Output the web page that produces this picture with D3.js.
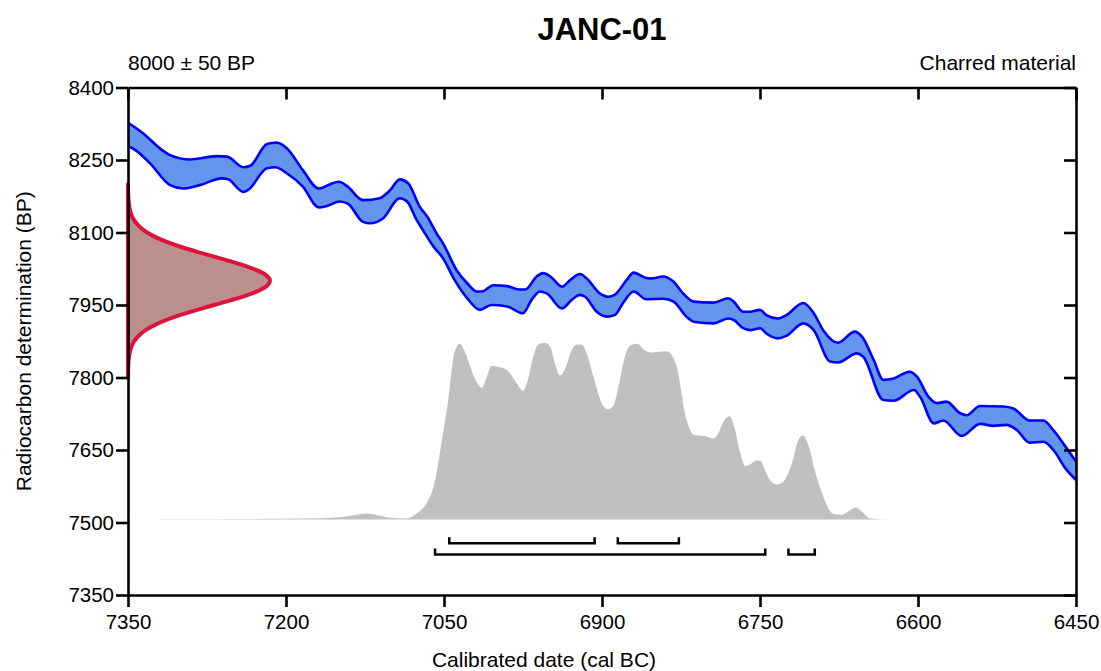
<!DOCTYPE html>
<html>
<head>
<meta charset="utf-8">
<script src="https://cdn.jsdelivr.net/npm/d3@7"></script>
<style>
  html, body { margin: 0; padding: 0; background: #fff; }
  svg { display: block; }
  text { font-family: "Liberation Sans", Arial, Helvetica, sans-serif; fill: #000; }
</style>
</head>
<body>
<svg id="chart" width="1101" height="671"></svg>
<script>
// ---------------- DATA ----------------
const title = "JANC-01";
const measurementLabel = "8000 ± 50 BP";
const materialLabel = "Charred material";
const xAxisTitle = "Calibrated date (cal BC)";
const yAxisTitle = "Radiocarbon determination (BP)";

const xTicks = [7350, 7200, 7050, 6900, 6750, 6600, 6450];
const yTicks = [7350, 7500, 7650, 7800, 7950, 8100, 8250, 8400];

// Calibration curve, upper edge [cal BC, BP]
const curveUpper = [
  [7350,8327],[7335.5,8305],[7318,8271],[7310,8260],[7291,8251],[7266,8258],[7256,8257],
  [7240.5,8235],[7234,8238],[7218,8283],[7209,8286],[7199,8274],[7184,8229],[7169,8191],
  [7158,8200],[7150,8205],[7142,8196],[7127,8167],[7111,8171],[7101,8188],[7092,8210],
  [7084,8202],[7073,8153],[7066,8133],[7057,8098],[7051,8078],[7038,8022],[7028,7995],
  [7019,7978],[7014,7978],[7003,7991],[6990,7989],[6979,7982],[6973,7982],[6962,8009],
  [6956,8016],[6949,8009],[6938,7988],[6930,8002],[6921,8014],[6914.5,8005],[6902,7974],
  [6894,7967],[6888,7971],[6876.5,8002],[6870,8017],[6858,8006],[6853,8005],[6842,8009],
  [6832,7998],[6823,7974],[6813,7957],[6794,7955],[6780,7964],[6775,7957],[6766,7936],
  [6759.5,7936],[6750,7940],[6744,7929],[6733,7922],[6725,7929],[6709,7954],[6699,7933],
  [6690,7898],[6676,7872],[6660,7895],[6653,7884],[6642,7836],[6633,7795],[6623,7798],
  [6608,7812],[6601,7802],[6590,7760],[6582,7747],[6573,7750],[6560,7726],[6554,7722],
  [6541,7741],[6519,7740],[6509.5,7736],[6494,7711],[6481,7711],[6471.5,7691],[6460,7657],
  [6450,7626]
];
// Calibration curve, lower edge [cal BC, BP]
const curveLower = [
  [7350,8279],[7342,8269],[7329,8243],[7310,8198],[7297.5,8191],[7282,8198],[7261,8212],
  [7255,8210],[7240.5,8184],[7236,8188],[7218,8233],[7210,8235],[7199,8222],[7184,8195],
  [7169,8152],[7161,8155],[7149,8164],[7141,8159],[7127,8122],[7120,8119],[7108,8129],
  [7092,8171],[7085,8164],[7076,8126],[7070,8105],[7060,8071],[7051,8047],[7040,8002],
  [7028,7964],[7016,7940],[7005,7950],[6990,7947],[6975,7933],[6967,7960],[6959,7978],
  [6952.5,7974],[6938,7943],[6929,7960],[6921,7971],[6916,7967],[6905,7936],[6895.5,7926],
  [6888,7929],[6880,7954],[6870,7978],[6858,7962],[6842,7963],[6832,7957],[6820,7926],
  [6813,7915.5],[6794,7912],[6780,7922],[6775,7919],[6766,7902],[6759.5,7898],[6750,7902],
  [6744,7891],[6733,7881],[6725,7886],[6709,7912],[6699,7898],[6683.5,7833],[6676,7831],
  [6658,7850],[6652,7843],[6633,7753.5],[6623,7752],[6604,7774],[6598,7760],[6585,7705],
  [6576,7711],[6558.5,7679],[6541,7704],[6528.5,7700],[6516,7702],[6506,7691],[6494,7665],
  [6481,7667],[6471.5,7650],[6460,7612],[6450,7588]
];

// Radiocarbon measurement distribution (BP, relative density)
const dateBP = [7800,7810,7820,7830,7840,7850,7860,7870,7880,7890,7900,7910,7920,7930,7940,7950,
  7960,7970,7980,7990,8000,8010,8020,8030,8040,8050,8060,8070,8080,8090,8100,8110,8120,8130,
  8140,8150,8160,8170,8180,8190,8200];
const dateDensity = [0.0003,0.0007,0.0015,0.003,0.006,0.011,0.020,0.034,0.056,0.089,0.135,0.198,
  0.278,0.375,0.487,0.607,0.726,0.835,0.923,0.980,1.0,0.980,0.923,0.835,0.726,0.607,0.487,
  0.375,0.278,0.198,0.135,0.089,0.056,0.034,0.020,0.011,0.006,0.003,0.0015,0.0007,0.0003];

// Calibrated probability distribution (cal BC, relative probability)
const calYears = [7320,7187,7149,7123,7101,7085,7076,7065,7060,7051,7046,7040,7035,7030,7025,
  7019,7014,7009.5,7005,6998,6990,6984,6979,6975,6970,6965,6960.5,6954,6949,6945,6940,6935,
  6929,6924,6919,6914.5,6908,6900,6894,6889,6884.5,6878,6873,6867,6859,6853,6838.5,6834,6829,
  6820,6813,6802,6794,6789.5,6785,6779,6774,6769,6764,6759.5,6753,6749,6744,6739,6734,6729,
  6725,6718,6715,6709.5,6704,6698,6691,6685,6679,6672,6664.5,6659,6653,6645.5,6627,6598];
const calProb = [0.002,0.006,0.013,0.034,0.010,0.006,0.034,0.109,0.184,0.486,0.674,0.947,0.994,
  0.947,0.862,0.777,0.746,0.806,0.868,0.862,0.844,0.797,0.753,0.727,0.797,0.928,0.990,0.998,
  0.975,0.890,0.815,0.853,0.956,0.990,0.989,0.938,0.806,0.655,0.623,0.646,0.749,0.928,0.985,
  0.994,0.956,0.944,0.951,0.932,0.862,0.571,0.480,0.472,0.458,0.489,0.551,0.584,0.514,0.382,
  0.303,0.312,0.335,0.328,0.260,0.212,0.199,0.208,0.241,0.354,0.429,0.476,0.420,0.279,0.147,
  0.062,0.030,0.028,0.053,0.068,0.043,0.006,0.001,0.0];

// Highest posterior density ranges [from, to] (cal BC)
const range68 = [[7045, 6907], [6885, 6827]];
const range95 = [[7058.5, 6745], [6723, 6698]];

// ---------------- CHART ----------------
const svg = d3.select("#chart");
const pL = 128, pR = 1076, pT = 87.5, pB = 595;

const x = d3.scaleLinear().domain([7350, 6450]).range([pL, pR]);
const y = d3.scaleLinear().domain([7350, 8400]).range([pB, pT]);

svg.append("defs").append("clipPath").attr("id", "clip")
  .append("rect").attr("x", pL).attr("y", pT).attr("width", pR - pL).attr("height", pB - pT);
const plot = svg.append("g");

// calibrated distribution (grey)
const probScale = d3.scaleLinear().domain([0, 1]).range([y(7506), y(7872)]);
const calData = calYears.map((d, i) => ({ year: d, p: calProb[i] }));
plot.append("path")
  .datum(calData)
  .attr("fill", "#c0c0c0")
  .attr("d", d3.area().x(d => x(d.year)).y0(probScale(0)).y1(d => probScale(d.p)).curve(d3.curveMonotoneX));

// calibration curve band
const lineGen = d3.line().x(d => x(d[0])).y(d => y(d[1])).curve(d3.curveMonotoneX);
const upPath = lineGen(curveUpper);
const lowRevPath = lineGen(curveLower.slice().reverse());
const bandG = plot.append("g").attr("clip-path", "url(#clip)");
bandG.append("path")
  .attr("d", upPath + "L" + lowRevPath.slice(1) + "Z")
  .attr("fill", "#6495ed").attr("stroke", "none");
bandG.append("path").attr("d", upPath).attr("fill", "none").attr("stroke", "#0000ff").attr("stroke-width", 2.6);
bandG.append("path").attr("d", lineGen(curveLower)).attr("fill", "none").attr("stroke", "#0000ff").attr("stroke-width", 2.6);

// radiocarbon measurement distribution (red)
const densScale = d3.scaleLinear().domain([0, 1]).range([x(7350), x(7350) + 142]);
const dateData = dateBP.map((d, i) => ({ bp: d, v: dateDensity[i] }));
plot.append("path")
  .datum(dateData)
  .attr("fill", "#bc8f8f")
  .attr("stroke", "#dc143c")
  .attr("stroke-width", 4)
  .attr("stroke-linejoin", "round")
  .attr("d", d3.area().y(d => y(d.bp)).x0(densScale(0)).x1(d => densScale(d.v)).curve(d3.curveMonotoneY));

// range brackets
function drawRanges(ranges, levelBP) {
  const yy = y(levelBP);
  ranges.forEach(r => {
    plot.append("path")
      .attr("d", `M${x(r[0])},${yy - 6}V${yy}H${x(r[1])}V${yy - 6}`)
      .attr("fill", "none").attr("stroke", "#000").attr("stroke-width", 2.5);
  });
}
drawRanges(range68, 7457);
drawRanges(range95, 7434);

// axes
const fontSize = "20.5px";
function styleAxis(g) {
  g.selectAll("path.domain").attr("stroke", "#000").attr("stroke-width", 2.6);
  g.selectAll(".tick line").attr("stroke", "#000").attr("stroke-width", 2.6);
  g.selectAll(".tick text").style("font-size", fontSize).attr("fill", "#000")
    .style("font-family", "'Liberation Sans', Arial, Helvetica, sans-serif");
}
svg.append("g").attr("transform", `translate(0,${pT})`)
  .call(d3.axisTop(x).tickValues(xTicks).tickSize(-12).tickSizeOuter(0).tickFormat(""))
  .call(styleAxis);
svg.append("g").attr("transform", `translate(${pR},0)`)
  .call(d3.axisRight(y).tickValues(yTicks).tickSize(-12).tickSizeOuter(0).tickFormat(""))
  .call(styleAxis);
svg.append("g").attr("transform", `translate(0,${pB})`)
  .call(d3.axisBottom(x).tickValues(xTicks).tickSize(12).tickSizeOuter(0).tickPadding(7).tickFormat(d3.format("d")))
  .call(styleAxis);
svg.append("g").attr("transform", `translate(${pL},0)`)
  .call(d3.axisLeft(y).tickValues(yTicks).tickSize(12).tickSizeOuter(0).tickPadding(2).tickFormat(d3.format("d")))
  .call(styleAxis);

// texts
svg.append("text").attr("x", (pL + pR) / 2).attr("y", 40).attr("text-anchor", "middle")
  .style("font-size", "31px").style("font-weight", "bold").text(title);
svg.append("text").attr("x", pL).attr("y", 70).attr("text-anchor", "start")
  .style("font-size", "21px").text(measurementLabel);
svg.append("text").attr("x", pR).attr("y", 70).attr("text-anchor", "end")
  .style("font-size", "21px").text(materialLabel);
svg.append("text").attr("x", 544).attr("y", 667).attr("text-anchor", "middle")
  .style("font-size", "21px").text(xAxisTitle);
svg.append("text").attr("transform", `translate(31,${(pT + pB) / 2}) rotate(-90)`)
  .attr("text-anchor", "middle").style("font-size", "21px").text(yAxisTitle);
</script>
</body>
</html>
